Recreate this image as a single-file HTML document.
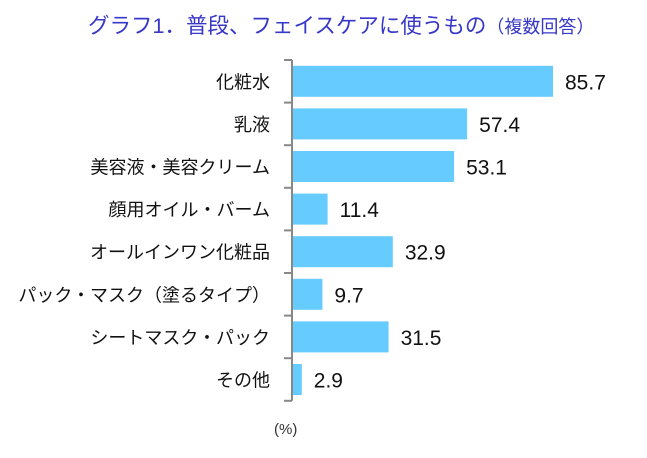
<!DOCTYPE html>
<html><head><meta charset="utf-8"><style>
body{margin:0;background:#fff;width:647px;height:453px;overflow:hidden}
svg text{font-family:"Liberation Sans","Noto Sans CJK JP",sans-serif}
</style></head><body>
<svg id="c" width="647" height="453">
<text x="88" y="33" font-size="21.5" fill="#3737c8">グラフ1．普段、フェイスケアに使うもの<tspan font-size="18">（複数回答）</tspan></text>
<text x="274" y="434" font-size="15" fill="#333">(%)</text>
</svg>
<script>
const categories=["化粧水","乳液","美容液・美容クリーム","顔用オイル・バーム","オールインワン化粧品","パック・マスク（塗るタイプ）","シートマスク・パック","その他"];
const values=[85.7,57.4,53.1,11.4,32.9,9.7,31.5,2.9];
const labels=["85.7","57.4","53.1","11.4","32.9","9.7","31.5","2.9"];
const svg=document.getElementById('c'),NS='http://www.w3.org/2000/svg';
const x0=293,kx=260/85.7,top0=60,rowH=42.6;
const xs=v=>x0+v*kx, ys=i=>top0+i*rowH;
function mk(t,a){const e=document.createElementNS(NS,t);for(const k in a)e.setAttribute(k,a[k]);svg.appendChild(e);return e;}
categories.forEach((c,i)=>{
 const yc=ys(i)+rowH/2;
 const r=mk('rect',{x:x0,y:yc-15.5,width:xs(values[i])-x0,height:31,fill:'#66ccff'});
 
 
 const t=mk('text',{x:270,y:yc+7,'font-size':18,'text-anchor':'end',fill:'#111'});t.textContent=c;
 
 
 const v=mk('text',{x:xs(values[i])+12,y:yc+8,'font-size':21,fill:'#111'});v.textContent=labels[i];
 
 
});
const ax=mk('line',{x1:292,x2:292,y1:top0,y2:ys(categories.length),stroke:'#888','stroke-width':2});


for(let i=0;i<=categories.length;i++){
 const tk=mk('line',{x1:284,x2:292,y1:ys(i),y2:ys(i),stroke:'#888','stroke-width':2});
 
 
}
</script>
</body></html>
